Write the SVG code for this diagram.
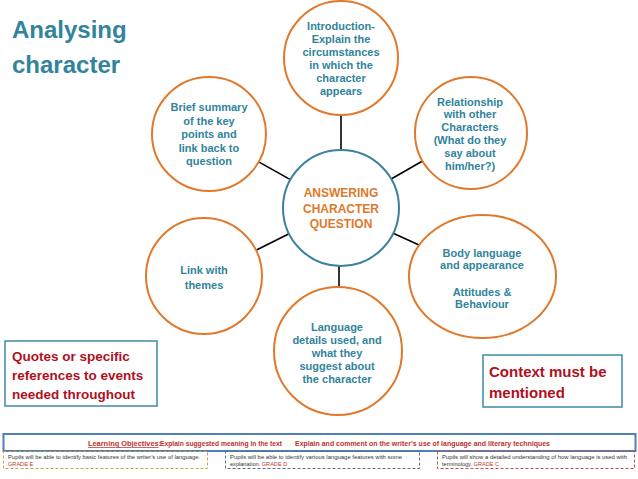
<svg xmlns="http://www.w3.org/2000/svg" width="638" height="479" viewBox="0 0 638 479">
<style>
.node{fill:#ffffff;stroke:#E0792B;stroke-width:2}
.hub{fill:#ffffff;stroke:#3C7F9E;stroke-width:2}
.nt{font-family:"Liberation Sans",Arial,sans-serif;font-weight:bold;font-size:11px;fill:#31849B;text-anchor:middle}
.ht{font-family:"Liberation Sans",Arial,sans-serif;font-weight:bold;font-size:12px;fill:#E0792B;text-anchor:middle}
.conn line{stroke:#000000;stroke-width:1.6}
.note{fill:#ffffff;stroke:#3F8AA6;stroke-width:1.5}
.nt2{font-family:"Liberation Sans",Arial,sans-serif;font-weight:bold;fill:#B0101E}
.small{font-family:"Liberation Sans",Arial,sans-serif;font-size:5.6px;fill:#333333}
.red{fill:#C0392B}
.lo{font-family:"Liberation Sans",Arial,sans-serif;font-weight:bold;font-size:7.4px;fill:#C0302B}
</style>
<rect width="638" height="479" fill="#ffffff"/>
<g id="title">
<text x="12" y="38" font-family="Liberation Sans,Arial,sans-serif" font-weight="bold" font-size="24" fill="#31849B">Analysing</text>
<text x="12" y="73" font-family="Liberation Sans,Arial,sans-serif" font-weight="bold" font-size="24" fill="#31849B">character</text>
</g>
<g id="connectors" class="conn">
<line x1="341" y1="115" x2="341" y2="150"/>
<line x1="290.4" y1="179.6" x2="258.7" y2="161.9"/>
<line x1="391.2" y1="179" x2="422.5" y2="161"/>
<line x1="289" y1="233.8" x2="256" y2="250.2"/>
<line x1="339" y1="266" x2="339" y2="287"/>
<line x1="393.2" y1="233.3" x2="419" y2="245"/>
</g>
<g id="hub">
<circle class="hub" cx="341" cy="208" r="58"/>
<text class="ht" x="341" y="197">ANSWERING</text>
<text class="ht" x="341" y="213">CHARACTER</text>
<text class="ht" x="341" y="228">QUESTION</text>
</g>
<g id="introduction">
<circle class="node" cx="341" cy="58" r="57"/>
<text class="nt" x="341" y="30">Introduction-</text>
<text class="nt" x="341" y="43">Explain the</text>
<text class="nt" x="341" y="56">circumstances</text>
<text class="nt" x="341" y="69">in which the</text>
<text class="nt" x="341" y="82">character</text>
<text class="nt" x="341" y="95">appears</text>
</g>
<g id="summary">
<circle class="node" cx="209" cy="134" r="57"/>
<text class="nt" x="209" y="111">Brief summary</text>
<text class="nt" x="209" y="125">of the key</text>
<text class="nt" x="209" y="138">points and</text>
<text class="nt" x="209" y="152">link back to</text>
<text class="nt" x="209" y="165">question</text>
</g>
<g id="relationship">
<circle class="node" cx="471" cy="133" r="56"/>
<text class="nt" x="470" y="106">Relationship</text>
<text class="nt" x="470" y="118">with other</text>
<text class="nt" x="470" y="131">Characters</text>
<text class="nt" x="470" y="144">(What do they</text>
<text class="nt" x="470" y="157">say about</text>
<text class="nt" x="470" y="170">him/her?)</text>
</g>
<g id="themes">
<circle class="node" cx="204" cy="276" r="58"/>
<text class="nt" x="204" y="274" font-size="11.5">Link with</text>
<text class="nt" x="204" y="289" font-size="11.5">themes</text>
</g>
<g id="language">
<circle class="node" cx="338" cy="351" r="64"/>
<text class="nt" x="337" y="331">Language</text>
<text class="nt" x="337" y="344">details used, and</text>
<text class="nt" x="337" y="357">what they</text>
<text class="nt" x="337" y="370">suggest about</text>
<text class="nt" x="337" y="383">the character</text>
</g>
<g id="body">
<ellipse class="node" cx="482.5" cy="276.5" rx="73.5" ry="61.5"/>
<text class="nt" x="482" y="257">Body language</text>
<text class="nt" x="482" y="269">and appearance</text>
<text class="nt" x="482" y="296">Attitudes &amp;</text>
<text class="nt" x="482" y="308">Behaviour</text>
</g>
<g id="quotes">
<rect class="note" x="5" y="341" width="152" height="65"/>
<text class="nt2" x="12" y="361" font-size="13.5">Quotes or specific</text>
<text class="nt2" x="12" y="380" font-size="13.5">references to events</text>
<text class="nt2" x="12" y="399" font-size="13.5">needed throughout</text>
</g>
<g id="context">
<rect class="note" x="483" y="355" width="139" height="52"/>
<text class="nt2" x="489" y="377" font-size="15">Context must be</text>
<text class="nt2" x="489" y="398" font-size="15">mentioned</text>
</g>
<g id="objectives">
<rect x="3.5" y="434" width="632" height="17" fill="#ffffff" stroke="#4F7FB5" stroke-width="2"/>
<text class="lo" x="88" y="446"><tspan text-decoration="underline">Learning Objectives</tspan>:</text>
<text class="lo" x="160" y="446" textLength="122" lengthAdjust="spacingAndGlyphs">Explain suggested meaning in the text</text>
<text class="lo" x="295" y="446" textLength="255" lengthAdjust="spacingAndGlyphs">Explain and comment on the writer’s use of language and literary techniques</text>
</g>
<g id="grade-e">
<rect x="3.5" y="451.5" width="204" height="17" fill="none" stroke="#C9A24A" stroke-width="1" stroke-dasharray="3,2"/>
<text class="small" x="8" y="458.5" textLength="192" lengthAdjust="spacingAndGlyphs">Pupils will be able to identify basic features of the writer’s use of language.</text>
<text class="small red" x="8" y="465.5">GRADE E</text>
</g>
<g id="grade-d">
<rect x="225.5" y="451.5" width="194" height="17" fill="none" stroke="#5A6F8E" stroke-width="1" stroke-dasharray="3,2"/>
<text class="small" x="230" y="458.5" textLength="172" lengthAdjust="spacingAndGlyphs">Pupils will be able to identify various language features with some</text>
<text class="small" x="230" y="465.5">explanation.  <tspan class="red">GRADE D</tspan></text>
</g>
<g id="grade-c">
<rect x="437.5" y="451.5" width="197" height="17" fill="none" stroke="#C0504D" stroke-width="1" stroke-dasharray="3,2"/>
<text class="small" x="442" y="458.5" textLength="185" lengthAdjust="spacingAndGlyphs">Pupils will show a detailed understanding of how language is used with</text>
<text class="small" x="442" y="465.5">terminology.  <tspan class="red">GRADE C</tspan></text>
</g>
</svg>
